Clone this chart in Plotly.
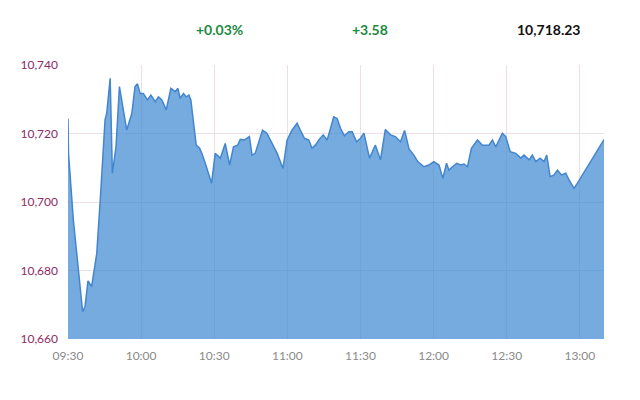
import plotly.graph_objects as go
import pandas as pd

times = ["09:30:00","09:30:12","09:32:12","09:34:12","09:36:00","09:37:00","09:38:12","09:39:42","09:41:48","09:43:24",
"09:45:12","09:45:54","09:47:18","09:48:12","09:49:42","09:51:06","09:52:42","09:54:06","09:56:12","09:57:30",
"09:58:30","09:59:36","10:00:54","10:02:36","10:04:00","10:05:48","10:07:06","10:08:30","10:10:18","10:12:12",
"10:14:00","10:15:06","10:16:00","10:17:24","10:18:30","10:19:36","10:20:24","10:21:30","10:22:36","10:24:00",
"10:24:54","10:26:18","10:28:54","10:30:24","10:32:30","10:34:30","10:36:18","10:37:54","10:39:36","10:40:42",
"10:42:18","10:44:24","10:45:30","10:46:48","10:48:12","10:49:48","10:51:36","10:53:42","10:55:48","10:58:12",
"10:59:54","11:01:54","11:04:00","11:05:18","11:07:00","11:08:48","11:10:06","11:11:30","11:12:54","11:14:42",
"11:16:18","11:17:42","11:19:00","11:20:24","11:21:48","11:23:24","11:25:12","11:26:36","11:28:24","11:30:00",
"11:31:24","11:33:42","11:36:06","11:38:12","11:40:12","11:42:18","11:44:18","11:46:24","11:48:06","11:49:54",
"11:51:54","11:53:30","11:56:00","11:58:00","12:00:06","12:02:12","12:03:48","12:05:18","12:06:18","12:07:42",
"12:09:30","12:11:06","12:12:30","12:13:54","12:15:30","12:18:00","12:20:00","12:22:42","12:24:06","12:25:30",
"12:28:12","12:29:36","12:31:24","12:33:42","12:35:48","12:37:06","12:39:12","12:40:30","12:41:54","12:43:42",
"12:45:18","12:46:24","12:47:48","12:49:24","12:50:48","12:52:30","12:54:12","12:55:36","12:57:36","12:59:00",
"13:09:54"]
values = [10724.4,10714.3,10694.7,10681.1,10668.0,10669.5,10677.0,10675.3,10685.0,10702.5,
10724.0,10725.9,10736.1,10708.4,10716.1,10733.7,10726.9,10721.0,10725.9,10733.7,
10734.5,10731.7,10731.7,10729.8,10731.2,10729.3,10730.7,10729.8,10726.9,10733.2,
10732.2,10733.2,10730.3,10731.7,10730.7,10731.2,10729.8,10724.0,10716.6,10715.7,
10714.2,10711.3,10705.5,10714.2,10712.8,10717.1,10710.8,10716.1,10716.6,10718.3,
10718.1,10719.1,10713.7,10714.2,10717.1,10721.0,10720.1,10717.1,10714.2,10709.8,
10718.1,10721.0,10723.0,10721.0,10718.6,10718.1,10715.7,10716.6,10718.1,10719.6,
10718.1,10721.5,10724.9,10724.4,10721.5,10719.3,10720.5,10720.5,10717.6,10718.6,
10720.1,10712.8,10716.6,10712.3,10721.2,10719.6,10719.1,10717.6,10720.9,10715.5,
10713.7,10711.8,10710.3,10710.8,10711.8,10710.8,10706.9,10711.3,10709.3,10710.3,
10711.3,10710.8,10711.1,10710.3,10715.7,10718.1,10716.6,10716.6,10718.1,10716.1,
10720.1,10719.1,10714.7,10714.2,10712.8,10713.7,10712.3,10713.7,10711.8,10712.8,
10711.8,10713.7,10707.4,10707.9,10709.3,10707.9,10708.4,10706.4,10704.0,10705.5,
10718.23]

tick_times = ["09:30", "10:00", "10:30", "11:00", "11:30", "12:00", "12:30", "13:00"]
y_ticks = [10660, 10680, 10700, 10720, 10740]
header_pct = "+0.03%"
header_chg = "+3.58"
header_last = "10,718.23"

day = "2024-01-01 "
x = pd.to_datetime([day + t for t in times])
tick_vals = pd.to_datetime([day + t for t in tick_times])

fig = go.Figure()
fig.add_trace(go.Scatter(
    x=x, y=values, mode="lines",
    line=dict(color="#4386cf", width=1.5),
    fill="tozeroy", fillcolor="rgba(60,135,210,0.70)",
    hoverinfo="skip", showlegend=False,
))

grid = "#ecdfe5"
fig.update_layout(
    width=632, height=392,
    margin=dict(l=60, r=36, t=57, b=61),
    paper_bgcolor="white", plot_bgcolor="white",
    font=dict(family="Lato, Calibri, sans-serif", size=12),
    xaxis=dict(
        type="date", range=[x[0], x[-1]],
        tickvals=tick_vals, ticktext=tick_times,
        showgrid=True, gridcolor=grid, gridwidth=1,
        zeroline=False, showline=False, ticks="",
        ticklabelstandoff=8,
        tickfont=dict(color="#8a8a8a", size=12),
    ),
    yaxis=dict(
        range=[10660, 10740],
        tickvals=y_ticks, tickformat=",d",
        showgrid=True, gridcolor=grid, gridwidth=1,
        zeroline=False, showline=False, ticks="",
        ticklabelstandoff=9,
        tickfont=dict(color="#8e2a63", size=12),
    ),
    annotations=[
        dict(text="<b>%s</b>" % header_pct, xref="paper", yref="paper", x=0.282, y=1.128,
             showarrow=False, font=dict(color="#1b8a3e", size=14), xanchor="center", yanchor="middle"),
        dict(text="<b>%s</b>" % header_chg, xref="paper", yref="paper", x=0.563, y=1.128,
             showarrow=False, font=dict(color="#1b8a3e", size=14), xanchor="center", yanchor="middle"),
        dict(text="<b>%s</b>" % header_last, xref="paper", yref="paper", x=0.896, y=1.128,
             showarrow=False, font=dict(color="#111111", size=14), xanchor="center", yanchor="middle"),
    ],
)

fig.write_html("out.html")
